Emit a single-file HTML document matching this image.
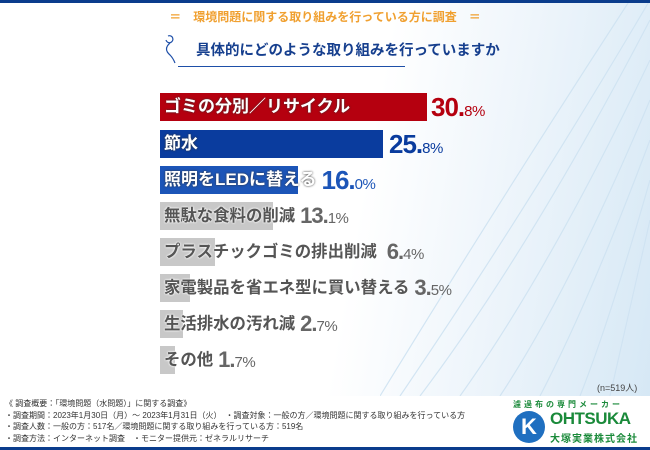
<!DOCTYPE html>
<html><head><meta charset="utf-8"><style>
*{margin:0;padding:0;box-sizing:border-box}
body{width:650px;height:450px;overflow:hidden;position:relative;background:#fff;font-family:"Liberation Sans","Noto Sans CJK JP",sans-serif}
.abs{position:absolute}
.bg{left:0;top:0;width:650px;height:396px;background:linear-gradient(100deg,#fff 0%,#fff 55%,#eef5fb 75%,#d6e8f5 100%)}
.bar{position:absolute;left:160px;height:28px}
.row{position:absolute;left:164px;height:28px;display:flex;align-items:center;white-space:nowrap}
.lab{font-size:17px;font-weight:bold;line-height:28px}
.w{color:#fff;text-shadow:0 0 2px #333}
.g{color:#555;font-size:16.4px;text-shadow:0 0 2px #fff,0 0 2px #fff}
.pct{font-weight:bold;font-size:26px;letter-spacing:-1px;margin-left:5px;display:inline-block}
.pct small{font-size:15px;font-weight:normal;letter-spacing:-0.5px}
.gp{font-size:22px;color:#666}
.foot{font-size:8px;color:#333;line-height:11.5px;white-space:nowrap}
</style></head><body>
<div class="abs bg"></div>
<svg class="abs" style="left:380px;top:0" width="270" height="396">
<g stroke="#cfe3f2" stroke-width="1.2" fill="none" opacity="0.9">
<path d="M270 20 Q150 250 40 396"/><path d="M270 60 Q170 270 80 396"/><path d="M270 100 Q190 290 120 396"/>
<path d="M270 140 Q210 300 160 396"/><path d="M270 180 Q230 320 200 396"/><path d="M250 0 Q120 200 0 396"/>
<path d="M270 0 Q140 220 20 396"/><path d="M270 220 Q245 330 230 396"/></g></svg>
<div class="abs" style="left:0;top:0;width:650px;height:3px;background:#0a3c8c"></div>
<div class="abs" style="left:0;top:447px;width:650px;height:3px;background:#0a3c8c"></div>
<div class="abs" style="left:0;top:8px;width:650px;text-align:center;font-size:12px;font-weight:bold;color:#f0a030">＝　環境問題に関する取り組みを行っている方に調査　＝</div>
<svg class="abs" style="left:160px;top:30px" width="30" height="38"><path d="M8 6 a3.5 3.5 0 1 1 -2 4 M10 13 q-7 6 0 12 q3 3 5 8" stroke="#1e4fa8" stroke-width="1.2" fill="none"/></svg>
<div class="abs" style="left:196px;top:39px;font-size:14.5px;font-weight:bold;color:#163f8e">具体的にどのような取り組みを行っていますか</div>
<div class="abs" style="left:178px;top:66px;width:227px;height:1px;background:#1e4fa8"></div>

<div class="bar" style="top:93px;width:267px;background:#b5000f"></div>
<div class="row" style="top:93px"><span class="lab w">ゴミの分別／リサイクル</span></div>
<div class="row" style="top:93px;left:431px"><span class="pct" style="color:#b5000f;margin:0">30.<small>8%</small></span></div>

<div class="bar" style="top:130px;width:223px;background:#0a3c9e"></div>
<div class="row" style="top:130px"><span class="lab w">節水</span></div>
<div class="row" style="top:130px;left:389px"><span class="pct" style="color:#0a3c9e;margin:0">25.<small>8%</small></span></div>

<div class="bar" style="top:166px;width:138px;background:#1c55b8"></div>
<div class="row" style="top:166px"><span class="lab w">照明をLEDに替える</span><span class="pct" style="color:#1c55b8">16.<small>0%</small></span></div>

<div class="bar" style="top:202px;width:113px;background:#c8c8c8"></div>
<div class="row" style="top:202px"><span class="lab g">無駄な食料の削減</span><span class="pct gp">13.<small>1%</small></span></div>

<div class="bar" style="top:238px;width:55px;background:#c8c8c8"></div>
<div class="row" style="top:238px"><span class="lab g">プラスチックゴミの排出削減</span><span class="pct gp" style="margin-left:10px">6.<small>4%</small></span></div>

<div class="bar" style="top:274px;width:30px;background:#c8c8c8"></div>
<div class="row" style="top:274px"><span class="lab g">家電製品を省エネ型に買い替える</span><span class="pct gp">3.<small>5%</small></span></div>

<div class="bar" style="top:310px;width:23px;background:#c8c8c8"></div>
<div class="row" style="top:310px"><span class="lab g">生活排水の汚れ減</span><span class="pct gp">2.<small>7%</small></span></div>

<div class="bar" style="top:346px;width:15px;background:#c8c8c8"></div>
<div class="row" style="top:346px"><span class="lab g">その他</span><span class="pct gp">1.<small>7%</small></span></div>

<div class="abs" style="left:597px;top:381px;font-size:9px;color:#444">(n=519人)</div>
<div class="abs foot" style="left:5px;top:398px">《 調査概要：「環境問題（水問題）」に関する調査》<br>・調査期間：2023年1月30日（月）～ 2023年1月31日（火）　・調査対象：一般の方／環境問題に関する取り組みを行っている方<br>・調査人数：一般の方：517名／環境問題に関する取り組みを行っている方：519名<br>・調査方法：インターネット調査　・モニター提供元：ゼネラルリサーチ</div>
<div class="abs" style="left:513px;top:399px;font-size:8px;color:#1a8a3a;letter-spacing:3px;font-weight:bold">濾過布の専門メーカー</div>
<div class="abs" style="left:513px;top:411px;width:32px;height:32px;border-radius:50%;background:#1f6fc0;color:#fff;font-weight:bold;font-size:22px;text-align:center;line-height:32px">K</div>
<div class="abs" style="left:550px;top:409px;font-size:17px;font-weight:bold;color:#1a8a3a;letter-spacing:-0.5px">OHTSUKA</div>
<div class="abs" style="left:550px;top:430px;font-size:10px;font-weight:bold;color:#1a8a3a;letter-spacing:1px">大塚実業株式会社</div>
</body></html>
